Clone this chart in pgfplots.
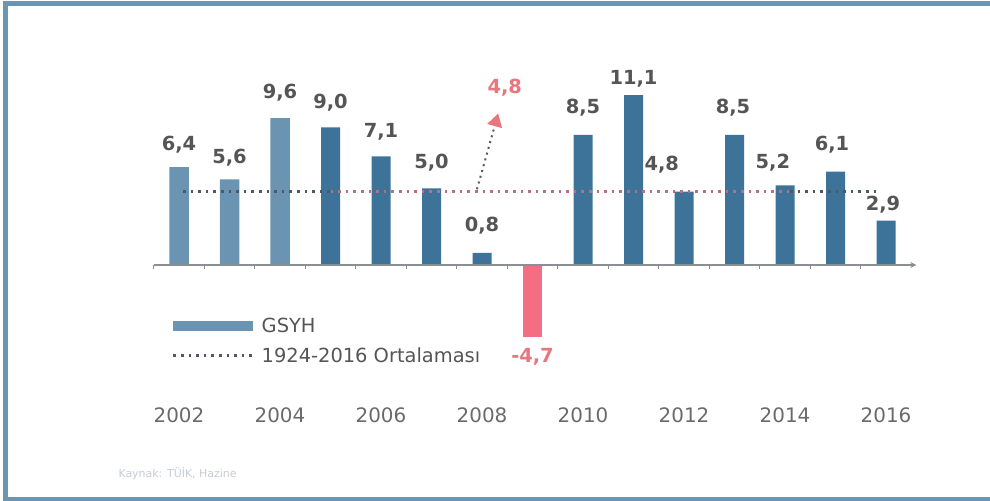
\documentclass[border=0pt]{standalone}
\usepackage{fontspec}
\setmainfont{DejaVu Sans}
\usepackage{pgfplots}
\pgfplotsset{compat=1.18}
\usetikzlibrary{arrows.meta}
\definecolor{framec}{HTML}{6A96B3}
\definecolor{lightbar}{HTML}{6A94B2}
\definecolor{darkbar}{HTML}{3D7398}
\definecolor{redbar}{HTML}{F26E80}
\definecolor{labgray}{HTML}{555555}
\definecolor{yeargray}{HTML}{6A6A6A}
\definecolor{redtext}{HTML}{E9767D}
\definecolor{avgdark}{HTML}{4E5866}
\definecolor{avgred}{HTML}{B8707C}
\definecolor{axisgray}{HTML}{8A8F96}
\definecolor{srcgray}{HTML}{C5CDD5}
\tikzset{lbl/.style={font=\fontsize{19.5}{22}\selectfont\bfseries, text=labgray}}
\begin{document}
\begin{tikzpicture}[x=1bp,y=1bp]
\path[use as bounding box] (0,0) rectangle (990,501);
\draw[framec, line width=5bp] (990,497.5) -- (5.5,497.5) -- (5.5,1.5) -- (990,1.5);
\node[anchor=west, text=srcgray, font=\fontsize{11}{13}\selectfont] at (115,27) {Kaynak: TÜİK, Hazine};
\begin{axis}[
  at={(153.75bp,98.3bp)}, anchor=south west,
  scale only axis, width=757.5bp, height=321.3bp,
  xmin=-0.5, xmax=14.5, ymin=-9, ymax=12,
  clip=false,
  axis line style={draw=none},
  ytick=\empty,
  xtick={0,2,4,6,8,10,12,14},
  xticklabels={2002,2004,2006,2008,2010,2012,2014,2016},
  major tick length=0pt,
  xticklabel style={font=\fontsize{20}{24}\selectfont, text=yeargray, yshift=-1bp},
  legend style={at={(axis cs:-0.14,-3.3)}, anchor=north west, draw=none, fill=none,
    font=\fontsize{19.5}{22}\selectfont, text=labgray, row sep=10bp, column sep=5bp, inner sep=0pt,
    cells={anchor=west}},
  legend cell align=left,
]
\addplot[ybar, bar width=19.5bp, bar shift=0pt, fill=lightbar, draw=none,
  legend image code/.code={\fill[lightbar] (0bp,-5bp) rectangle (80bp,5bp);}]
  coordinates {(0,6.4) (1,5.6) (2,9.6)};
\addlegendentry{GSYH}
\addplot[ybar, bar width=19bp, bar shift=0pt, fill=darkbar, draw=none, forget plot]
  coordinates {(3,9.0) (4,7.1) (5,5.0) (6,0.8) (8,8.5) (9,11.1) (10,4.8) (11,8.5) (12,5.2) (13,6.1) (14,2.9)};
\addplot[ybar, bar width=19bp, bar shift=0pt, fill=redbar, draw=none, forget plot]
  coordinates {(7,-4.7)};
% average line
\addplot[avgdark, line width=2.6bp, dash pattern=on 2.6bp off 5bp, no marks,
  legend image code/.code={\draw[avgdark, line width=2.6bp, dash pattern=on 2.6bp off 5bp] (0bp,0bp) -- (80bp,0bp);}]
  coordinates {(0.08,4.8) (3,4.8)};
\addlegendentry{1924-2016 Ortalaması}
\addplot[avgred, line width=2.6bp, dash pattern=on 2.6bp off 5bp, no marks, forget plot]
  coordinates {(3,4.8) (12.1,4.8)};
\addplot[avgdark, line width=2.6bp, dash pattern=on 2.6bp off 5bp, no marks, forget plot]
  coordinates {(12.1,4.8) (13.9,4.8)};
% x axis line and ticks
\addplot[axisgray, line width=1.3bp, no marks, -{Stealth[length=6bp,width=6bp]}, forget plot]
  coordinates {(-0.5,0) (14.6,0)};
\addplot[axisgray, only marks, mark=|, mark size=2bp, line width=1bp, forget plot]
  coordinates {(-0.5,-0.13) (0.5,-0.13) (1.5,-0.13) (2.5,-0.13) (3.5,-0.13) (4.5,-0.13) (5.5,-0.13) (6.5,-0.13) (7.5,-0.13) (8.5,-0.13) (9.5,-0.13) (10.5,-0.13) (11.5,-0.13) (12.5,-0.13) (13.5,-0.13)};
% arrow to 4,8
\draw[gray!70!black, line width=2bp, dash pattern=on 2bp off 4bp,
  -{Triangle[length=13bp,width=15bp,color=redtext,fill=redtext]}]
  (axis cs:5.9,4.95) -- (axis cs:6.32,9.9);
% value labels
\node[lbl] at (axis cs:0,7.84) {6,4};
\node[lbl] at (axis cs:1,7.0) {5,6};
\node[lbl] at (axis cs:2,11.24) {9,6};
\node[lbl] at (axis cs:3,10.6) {9,0};
\node[lbl] at (axis cs:4,8.7) {7,1};
\node[lbl] at (axis cs:5,6.67) {5,0};
\node[lbl] at (axis cs:6,2.55) {0,8};
\node[lbl, text=redtext] at (axis cs:7,-6.0) {-4,7};
\node[lbl, text=redtext] at (axis cs:6.45,11.57) {4,8};
\node[lbl] at (axis cs:8,10.26) {8,5};
\node[lbl] at (axis cs:9,12.2) {11,1};
\node[lbl] at (axis cs:9.56,6.54) {4,8};
\node[lbl] at (axis cs:10.97,10.26) {8,5};
\node[lbl] at (axis cs:11.76,6.67) {5,2};
\node[lbl] at (axis cs:12.93,7.84) {6,1};
\node[lbl] at (axis cs:13.94,3.92) {2,9};
\end{axis}
\end{tikzpicture}
\end{document}
